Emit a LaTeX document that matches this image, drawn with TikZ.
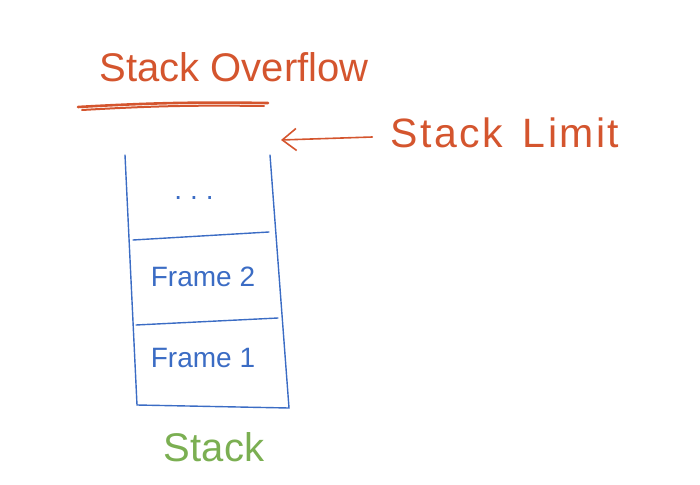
\documentclass[tikz,border=0pt]{standalone}
\usepackage{fontspec}
\setmainfont{Liberation Sans}
\usepackage{tikz}
\usetikzlibrary{positioning, arrows.meta, calc}

\definecolor{penorange}{HTML}{D4552E}
\definecolor{penblue}{HTML}{3B6CC4}
\definecolor{pengreen}{HTML}{7BAF52}

\begin{document}
\begin{tikzpicture}
    [
        x=1pt, y=-1pt,
        node distance=12pt and 20pt,
        bigtext/.style={text=penorange, font=\fontsize{40}{44}\selectfont, inner sep=0pt},
        frametext/.style={text=penblue, font=\fontsize{28}{32}\selectfont, inner sep=0pt},
        stackline/.style={draw=penblue, line width=1.4pt, line cap=round},
        penline/.style={draw=penorange, line width=1.6pt, line cap=round}
    ]
        \useasboundingbox (0,0) rectangle (700,484);
        % =========================================================================
        % NODES
        % =========================================================================
        % --- Titles ---
        \node [bigtext] (overflow) at (234,67) {Stack Overflow};
        \node [bigtext, font=\fontsize{41}{44}\selectfont\addfontfeature{LetterSpace=6}] (limit) at (505,133) {Stack\hspace{20pt}Limit};
        \coordinate (limittip) at (281,140);
        % --- Stack contents ---
        \node [frametext] (dots) at (194,198) {.\hspace{8pt}.\hspace{8pt}.};
        \node [frametext] (frame2) at (203,277) {Frame 2};
        \node [frametext] (frame1) at (203,358) {Frame 1};
        \node [bigtext, text=pengreen] (stacklabel) at (214,447) {Stack};

        % =========================================================================
        % PATHS
        % =========================================================================
        % --- Stack box ---
        \draw [stackline] (125,155) -- (137,405) -- (289,408) -- (270,155);
        \draw [stackline] (133,240) -- (269,232);
        \draw [stackline] (136,325) -- (278,318);
        %  Underline
        \draw [penline, line width=2.6pt] (78,107) to[bend left=2] (268,103);
        \draw [penline, line width=2pt] (82,110) to[bend left=2] (264,106);
        %  Limit arrow
        \draw [penline, -{Straight Barb[length=14pt, width=22pt]}] (limit.west) ++(-18,4) -- (limittip);
    \end{tikzpicture}
\end{document}
